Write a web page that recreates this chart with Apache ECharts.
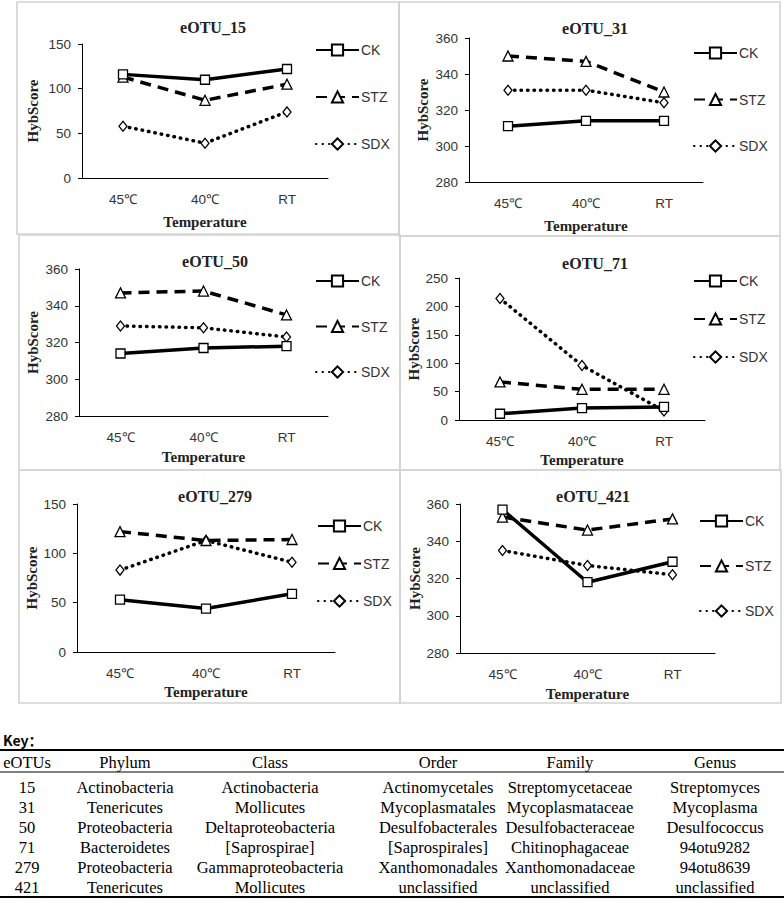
<!DOCTYPE html>
<html><head><meta charset="utf-8">
<script src="https://cdn.jsdelivr.net/npm/echarts@6/dist/echarts.min.js"></script>
<style>html,body{margin:0;padding:0;background:#fff}#c{width:784px;height:909px}</style>
</head><body><div id="c"></div>
<script>
// ---- data ----
const categories = ['45℃', '40℃', 'RT'];
const seriesNames = ['CK', 'STZ', 'SDX'];
const panelTitles = ['eOTU_15', 'eOTU_31', 'eOTU_50', 'eOTU_71', 'eOTU_279', 'eOTU_421'];
const ckValues  = [[116,110,122],[311,314,314],[314,317,318],[11,21,23],[53,44,59],[357,318,329]];
const stzValues = [[113,87,105],[350,347,330],[347,348,335],[67,54,54],[122,113,114],[353,346,352]];
const sdxValues = [[58,39,74],[331,331,324],[329,328,323],[214,96,16],[83,113,91],[335,327,322]];
const yMins = [0, 280, 280, 0, 0, 280];
const yMaxs = [150, 360, 360, 250, 150, 360];
const yIntervals = [50, 20, 20, 50, 50, 20];
const xAxisTitle = 'Temperature';
const yAxisTitle = 'HybScore';
const keyTitle = 'Key：';
const tableHeader = ['eOTUs', 'Phylum', 'Class', 'Order', 'Family', 'Genus'];
const tableRow1 = ['15', 'Actinobacteria', 'Actinobacteria', 'Actinomycetales', 'Streptomycetaceae', 'Streptomyces'];
const tableRow2 = ['31', 'Tenericutes', 'Mollicutes', 'Mycoplasmatales', 'Mycoplasmataceae', 'Mycoplasma'];
const tableRow3 = ['50', 'Proteobacteria', 'Deltaproteobacteria', 'Desulfobacterales', 'Desulfobacteraceae', 'Desulfococcus'];
const tableRow4 = ['71', 'Bacteroidetes', '[Saprospirae]', '[Saprospirales]', 'Chitinophagaceae', '94otu9282'];
const tableRow5 = ['279', 'Proteobacteria', 'Gammaproteobacteria', 'Xanthomonadales', 'Xanthomonadaceae', '94otu8639'];
const tableRow6 = ['421', 'Tenericutes', 'Mollicutes', 'unclassified', 'unclassified', 'unclassified'];
const tableRows = [tableRow1, tableRow2, tableRow3, tableRow4, tableRow5, tableRow6];

// ---- layout ----
const gridBoxes = [
  {left: 82, top: 44, width: 246, height: 134},
  {left: 469, top: 38, width: 234, height: 144},
  {left: 79, top: 269, width: 249, height: 147},
  {left: 459, top: 278, width: 246, height: 142},
  {left: 77, top: 504, width: 258, height: 148},
  {left: 460, top: 504, width: 255, height: 149}
];
const titlePos = [[208, 14], [590, 15], [210, 248], [590, 250], [210, 483], [588, 483]];
const legendPos = [
  {left: 315, top: 43, gap: 33},
  {left: 693, top: 46, gap: 32.5},
  {left: 315, top: 274, gap: 31.5},
  {left: 693, top: 274, gap: 24},
  {left: 317, top: 519, gap: 23.5},
  {left: 699, top: 514, gap: 31}
];
const yNameGaps = [42, 39, 39, 37, 37, 38];
const xNameGaps = [36, 36, 33, 32, 32, 33];
const panelBoxes = [
  [17, 2, 382, 232], [399, 2, 381, 234],
  [19, 235, 381, 235], [400, 236, 380, 234],
  [19, 470, 381, 233], [400, 470, 381, 233]
];
const tableCols = [27, 125, 270, 438, 570, 715];

const serif = '"Liberation Serif", "Times New Roman", serif';
const sans = '"Liberation Sans", Arial, sans-serif';

const seriesStyles = [
  {symbol: 'rect', symbolSize: 9, lineStyle: {color: '#000', width: 3.5, type: 'solid'}},
  {symbol: 'triangle', symbolSize: 10, lineStyle: {color: '#000', width: 3.5, type: [11, 7]}},
  {symbol: 'diamond', symbolSize: [8, 10], lineStyle: {color: '#000', width: 3.5, type: [0.5, 6], cap: 'round'}}
];
const valueSets = [ckValues, stzValues, sdxValues];

const grid = [], xAxis = [], yAxis = [], series = [], title = [], legend = [];
for (let p = 0; p < 6; p++) {
  grid.push(Object.assign({containLabel: false}, gridBoxes[p]));
  xAxis.push({
    type: 'category', gridIndex: p, data: categories, boundaryGap: true,
    axisLine: {lineStyle: {color: '#000', width: 1}},
    axisTick: {show: false},
    axisLabel: {color: '#333', fontFamily: sans, fontSize: 13.5, margin: 14},
    name: xAxisTitle, nameLocation: 'middle', nameGap: xNameGaps[p],
    nameTextStyle: {fontFamily: serif, fontWeight: 'bold', fontSize: 15, color: '#222'}
  });
  yAxis.push({
    type: 'value', gridIndex: p, min: yMins[p], max: yMaxs[p], interval: yIntervals[p],
    axisLine: {show: true, lineStyle: {color: '#000', width: 1}},
    axisTick: {show: true, length: 4, lineStyle: {color: '#000'}},
    splitLine: {show: false},
    axisLabel: {color: '#333', fontFamily: sans, fontSize: 13.5, margin: 11},
    name: yAxisTitle, nameLocation: 'middle', nameGap: yNameGaps[p],
    nameTextStyle: {fontFamily: serif, fontWeight: 'bold', fontSize: 15, color: '#222'}
  });
  const names = [];
  for (let s = 0; s < 3; s++) {
    const nm = seriesNames[s] + (p ? '\u200b'.repeat(p) : '');
    names.push(nm);
    series.push({
      type: 'line', name: nm, xAxisIndex: p, yAxisIndex: p,
      data: valueSets[s][p],
      symbol: seriesStyles[s].symbol, symbolSize: seriesStyles[s].symbolSize,
      showAllSymbol: true,
      lineStyle: seriesStyles[s].lineStyle,
      itemStyle: {color: '#fff', borderColor: '#000', borderWidth: 1.3},
      z: 3 - s, animation: false
    });
  }
  title.push({
    text: panelTitles[p], left: titlePos[p][0], top: titlePos[p][1], textAlign: 'center',
    textStyle: {fontFamily: serif, fontWeight: 'bold', fontSize: 16, color: '#222'}
  });
  legend.push({
    data: names, orient: 'vertical', left: legendPos[p].left, top: legendPos[p].top,
    itemGap: legendPos[p].gap, itemWidth: 43, itemHeight: 14, padding: 0,
    formatter: (n) => n.replace(/\u200b/g, ''),
    textStyle: {fontFamily: sans, fontSize: 14, color: '#333', padding: [0, 0, 0, -3]},
    selectedMode: false
  });
}

const graphic = [];
panelBoxes.forEach(b => graphic.push({
  type: 'rect', shape: {x: b[0], y: b[1], width: b[2], height: b[3]},
  style: {fill: 'none', stroke: '#d3d3d3', lineWidth: 1.6}, silent: true, z: -1
}));
graphic.push({type: 'text', style: {x: 3, y: 740, text: keyTitle, fontFamily: '"Noto Sans CJK SC", sans-serif', fontWeight: 'bold', fontSize: 14, fill: '#000', align: 'left', verticalAlign: 'middle'}});
graphic.push({type: 'line', shape: {x1: 0, y1: 750, x2: 784, y2: 750}, style: {stroke: '#000', lineWidth: 2}});
graphic.push({type: 'line', shape: {x1: 0, y1: 772, x2: 784, y2: 772}, style: {stroke: '#000', lineWidth: 1}});
graphic.push({type: 'line', shape: {x1: 0, y1: 897, x2: 784, y2: 897}, style: {stroke: '#000', lineWidth: 2}});
tableHeader.forEach((h, i) => graphic.push({type: 'text', style: {x: tableCols[i], y: 762, text: h, fontFamily: serif, fontSize: 16.5, fill: '#000', align: 'center', verticalAlign: 'middle'}}));
tableRows.forEach((row, r) => row.forEach((t, i) => graphic.push({type: 'text', style: {x: tableCols[i], y: 787 + r * 20, text: t, fontFamily: serif, fontSize: 16.5, fill: '#000', align: 'center', verticalAlign: 'middle'}})));

const chart = echarts.init(document.getElementById('c'), null, {renderer: 'svg', width: 784, height: 909});
chart.setOption({animation: false, backgroundColor: '#fff', grid, xAxis, yAxis, series, title, legend, graphic});
</script></body></html>
